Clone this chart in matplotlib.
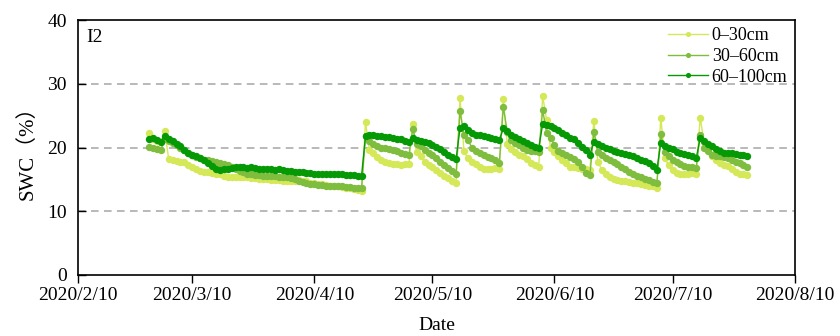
import pandas as pd
import matplotlib
matplotlib.use('Agg')
import matplotlib.pyplot as plt


plt.rcParams['font.family'] = ['Liberation Serif', 'Noto Sans CJK SC']

start_date = '2020-02-28'

# soil water content (%), one reading per day
swc_0_30 = [
    22.2, 21.3, 21.0, 20.8, 22.6, 18.2, 18.0, 17.9, 17.8, 17.8,
    17.2, 16.9, 16.6, 16.3, 16.2, 16.1, 16.0, 15.9, 15.8, 15.6,
    15.4, 15.4, 15.3, 15.4, 15.3, 15.3, 15.2, 15.2, 15.1, 15.0,
    15.0, 14.9, 14.9, 14.9, 14.8, 14.8, 14.7, 14.8, 14.9, 14.8,
    14.7, 14.5, 14.4, 14.3, 14.2, 14.1, 14.0, 13.9, 13.9, 13.8,
    13.7, 13.6, 13.5, 13.4, 13.2, 24.0, 19.6, 19.1, 18.5, 18.0,
    17.7, 17.5, 17.4, 17.4, 17.3, 17.4, 17.4, 23.7, 19.3, 18.6,
    17.8, 17.3, 16.9, 16.5, 16.0, 15.6, 15.2, 14.8, 14.4, 27.8,
    19.5, 18.3, 17.8, 17.4, 16.9, 16.7, 16.7, 16.7, 16.8, 16.7,
    27.6, 20.5, 19.8, 19.3, 18.9, 18.6, 18.2, 17.6, 17.3, 17.0,
    28.1, 24.3, 20.0, 19.3, 18.6, 18.0, 17.5, 17.0, 16.9, 16.8,
    16.7, 16.6, 16.5, 24.2, 17.8, 16.5, 15.9, 15.4, 15.1, 14.9,
    14.8, 14.7, 14.6, 14.5, 14.4, 14.2, 14.1, 14.0, 13.9, 13.7,
    24.7, 18.3, 17.2, 16.5, 16.0, 15.9, 15.9, 15.9, 16.0, 15.9,
    24.7, 20.8, 19.6, 18.7, 18.0, 17.6, 17.3, 17.1, 16.7, 16.2,
    15.9, 15.8, 15.7,
]

swc_30_60 = [
    20.1, 20.0, 19.8, 19.6, 21.3, 21.0, 20.7, 20.4, 20.0, 19.6,
    19.2, 18.8, 18.5, 18.3, 18.1, 18.0, 17.9, 17.8, 17.6, 17.4,
    17.2, 16.9, 16.6, 16.3, 16.1, 15.8, 15.8, 15.7, 15.7, 15.6,
    15.6, 15.5, 15.5, 15.4, 15.3, 15.3, 15.2, 15.1, 14.8, 14.6,
    14.4, 14.3, 14.2, 14.1, 14.1, 14.0, 14.0, 13.9, 13.9, 13.9,
    13.8, 13.8, 13.7, 13.7, 13.6, 21.8, 21.0, 20.6, 20.3, 20.0,
    19.9, 19.7, 19.6, 19.4, 19.2, 19.0, 18.8, 22.9, 20.6, 20.3,
    19.6, 19.2, 18.8, 18.3, 17.8, 17.2, 16.8, 16.3, 15.8, 25.7,
    22.0, 21.2, 20.0, 19.5, 19.1, 18.8, 18.5, 18.3, 18.0, 17.6,
    26.4, 22.5, 21.2, 20.7, 20.4, 20.0, 19.6, 19.5, 19.4, 19.3,
    25.9, 22.3, 21.5, 20.4, 19.5, 19.1, 18.8, 18.5, 18.2, 17.8,
    17.0, 16.0, 15.7, 22.5, 19.3, 18.8, 18.4, 18.1, 17.8, 17.4,
    16.9, 16.6, 16.2, 15.9, 15.6, 15.4, 15.1, 14.9, 14.6, 14.4,
    22.1, 19.3, 18.7, 18.1, 17.7, 17.4, 17.1, 17.0, 16.9, 16.8,
    22.0, 20.0, 19.4, 18.9, 18.7, 18.6, 18.5, 18.3, 18.1, 17.8,
    17.5, 17.2, 17.0,
]

swc_60_100 = [
    21.3, 21.5, 21.2, 20.9, 21.8, 21.4, 21.0, 20.6, 20.2, 19.6,
    19.2, 18.9, 18.6, 18.3, 18.0, 17.6, 17.1, 16.7, 16.5, 16.6,
    16.6, 16.8, 16.9, 16.9, 16.9, 16.8, 16.9, 16.8, 16.7, 16.7,
    16.7, 16.6, 16.5, 16.6, 16.4, 16.3, 16.3, 16.2, 16.1, 16.1,
    16.0, 16.0, 15.9, 15.9, 15.9, 15.8, 15.9, 15.8, 15.8, 15.8,
    15.7, 15.7, 15.7, 15.6, 15.6, 21.8, 22.0, 21.9, 21.8, 21.8,
    21.7, 21.6, 21.5, 21.4, 21.3, 21.1, 20.9, 21.5, 21.2, 21.1,
    20.9, 20.7, 20.4, 20.1, 19.7, 19.3, 18.9, 18.5, 18.2, 23.0,
    23.3, 22.8, 22.3, 22.0, 21.9, 21.8, 21.7, 21.5, 21.3, 21.2,
    23.0, 22.6, 22.0, 21.7, 21.4, 21.0, 20.7, 20.4, 20.1, 19.9,
    23.7, 23.5, 23.3, 23.0, 22.7, 22.3, 21.9, 21.5, 21.3, 20.7,
    20.1, 19.6, 18.9, 20.9, 20.6, 20.2, 20.0, 19.8, 19.5, 19.3,
    19.1, 19.0, 18.8, 18.6, 18.3, 18.1, 17.9, 17.5, 17.1, 16.5,
    20.7, 20.3, 20.0, 19.7, 19.3, 19.1, 19.0, 18.9, 18.6, 18.3,
    21.5, 21.0, 20.6, 20.2, 19.8, 19.4, 19.2, 19.1, 19.1, 19.0,
    18.9, 18.8, 18.6,
]

layer_names = ['0–30cm', '30–60cm', '60–100cm']
layer_colors = ['#d4e858', '#7ebd3e', '#059a05']

tick_dates = ['2020-02-10', '2020-03-10', '2020-04-10', '2020-05-10',
              '2020-06-10', '2020-07-10', '2020-08-10']
tick_labels = ['2020/2/10', '2020/3/10', '2020/4/10', '2020/5/10',
               '2020/6/10', '2020/7/10', '2020/8/10']
y_ticks = [0, 10, 20, 30, 40]


def plot_swc():
    dates = pd.date_range(start_date, periods=len(swc_0_30), freq='D')

    fig = plt.figure(figsize=(8.4, 3.36), dpi=100)
    ax = fig.add_axes([0.093, 0.182, 0.853, 0.758])

    for y in y_ticks[1:-1]:
        ax.axhline(y, color='#a6a6a6', linestyle=(0, (5, 3.5)), linewidth=1.1, zorder=0)

    for values, name, color in zip([swc_0_30, swc_30_60, swc_60_100], layer_names, layer_colors):
        ax.plot(dates, values, '-o', color=color, linewidth=1.0,
                markersize=5.3, markeredgewidth=0, label=name)

    ax.set_xlim(pd.Timestamp(tick_dates[0]), pd.Timestamp(tick_dates[-1]))
    ax.set_ylim(0, 40)
    ax.set_xticks(pd.to_datetime(tick_dates))
    ax.set_xticklabels(tick_labels, fontsize=14)
    ax.set_yticks(y_ticks)
    ax.set_yticklabels([str(v) for v in y_ticks], fontsize=14)
    ax.tick_params(axis='x', direction='out', length=6, width=1, pad=3)
    ax.tick_params(axis='y', direction='in', length=6, width=1, pad=8)
    for s in ax.spines.values():
        s.set_linewidth(1.2)

    ax.set_xlabel('Date', fontsize=14, labelpad=9)
    ax.set_ylabel('SWC（%）', fontsize=15, labelpad=7)
    ax.text(0.012, 0.965, 'I2', transform=ax.transAxes, fontsize=14, va='top')

    ax.legend(loc='upper right', frameon=False, fontsize=13, handlelength=2.2,
              handletextpad=0.2, labelspacing=0.2, borderpad=0.1,
              borderaxespad=0.3, markerscale=0.7)

    fig.savefig('out.png', dpi=100)


if __name__ == '__main__':
    plot_swc()
